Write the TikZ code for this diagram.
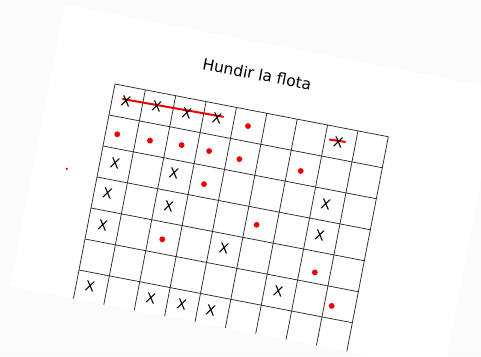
\documentclass[tikz,border=0pt]{standalone}
\usepackage{fontspec}
\setmainfont{DejaVu Sans}
\definecolor{bgout}{HTML}{FBFBFB}
\definecolor{gridc}{HTML}{2A2A2A}
\definecolor{redc}{HTML}{F00000}
\tikzset{
  gridline/.style={draw=gridc, line width=0.75pt},
  xmark/.style={inner sep=0pt, font=\fontsize{14}{14}\selectfont, rotate=-10.92, text=black},
  reddot/.style={circle, fill=redc, inner sep=0pt, minimum size=5.8pt},
  redline/.style={draw=redc, line width=2pt, line cap=round},
  titlestyle/.style={inner sep=0pt, font=\fontsize{15.5}{15.5}\selectfont, rotate=-10.92, text=black}
}
\begin{document}
\begin{tikzpicture}
\useasboundingbox (0pt,0pt) rectangle (481pt,-356pt);
\fill[bgout] (0pt,0pt) rectangle (481pt,-356pt);
\begin{scope}[shift={(115pt,-84pt)}, x={(30.37pt,-5.86pt)}, y={(-6pt,-31pt)}]
  % sheet
  \fill[white] (-2.08,-2.16) -- (12.2,-2.16) -- (12.2,6.92) -- (-2.08,6.92) -- cycle;
  % grid
  \foreach \i in {0,...,9} \draw[gridline] (\i,0) -- (\i,6.92);
  \foreach \j in {0,...,6} \draw[gridline] (0,\j) -- (9,\j);
  % title
  \node[titlestyle] (title) at (4.45,-1.16) {Hundir la flota};
  % red strike lines (under the X marks)
  \coordinate (s1a) at (0.34,0.42);
  \coordinate (s1b) at (3.64,0.37);
  \draw[redline] (s1a) -- (s1b);
  \coordinate (s2a) at (7.16,0.44);
  \coordinate (s2b) at (7.66,0.42);
  \draw[redline] (s2a) -- (s2b);
  % row 1
  \node[xmark] (x11) at (0.46,0.49) {X};
  \node[xmark] (x21) at (1.47,0.46) {X};
  \node[xmark] (x31) at (2.46,0.47) {X};
  \node[xmark] (x41) at (3.45,0.45) {X};
  \node[reddot] (d51) at (4.48,0.51) {};
  \node[xmark] (x81) at (7.45,0.49) {X};
  % row 2
  \node[reddot] (d12) at (0.38,1.55) {};
  \node[reddot] (d22) at (1.46,1.55) {};
  \node[reddot] (d32) at (2.49,1.50) {};
  \node[reddot] (d42) at (3.40,1.52) {};
  \node[reddot] (d52) at (4.41,1.59) {};
  \node[reddot] (d72) at (6.43,1.59) {};
  % row 3
  \node[xmark] (x13) at (0.49,2.47) {X};
  \node[xmark] (x33) at (2.43,2.44) {X};
  \node[reddot] (d43) at (3.44,2.58) {};
  \node[xmark] (x83) at (7.43,2.47) {X};
  % row 4
  \node[xmark] (x14) at (0.44,3.46) {X};
  \node[xmark] (x34) at (2.46,3.47) {X};
  \node[reddot] (d64) at (5.36,3.53) {};
  \node[xmark] (x84) at (7.43,3.47) {X};
  % row 5
  \node[xmark] (x15) at (0.48,4.48) {X};
  \node[reddot] (d35) at (2.455,4.545) {};
  \node[xmark] (x55) at (4.47,4.455) {X};
  \node[reddot] (d85) at (7.50,4.66) {};
  % row 6
  \node[xmark] (x76) at (6.46,5.48) {X};
  \node[reddot] (d96) at (8.24,5.60) {};
  % row 7
  \node[xmark] (x17) at (0.45,6.45) {X};
  \node[xmark] (x37) at (2.45,6.45) {X};
  \node[xmark] (x47) at (3.47,6.44) {X};
  \node[xmark] (x57) at (4.43,6.47) {X};
  % stray dot
  \node[circle, fill=redc, inner sep=0pt, minimum size=2.4pt] (stray) at (-1.01,2.93) {};
\end{scope}
\end{tikzpicture}
\end{document}
